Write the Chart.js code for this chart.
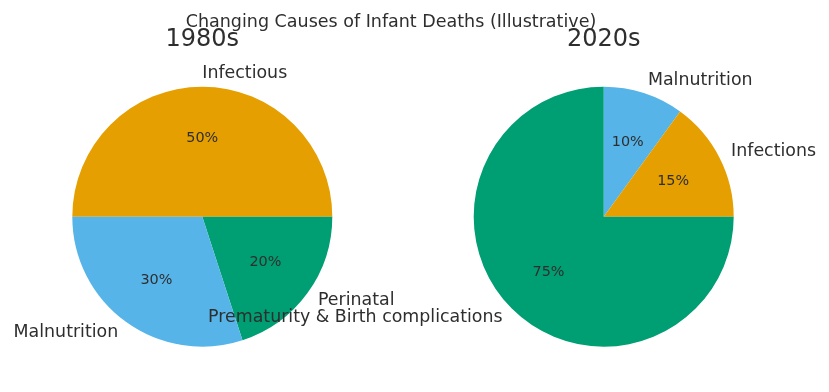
<!DOCTYPE html>
<html>
<head>
<meta charset="utf-8">
<title>Changing Causes of Infant Deaths</title>
<script src="https://cdn.jsdelivr.net/npm/chart.js@4.4.0/dist/chart.umd.min.js"></script>
<style>
    html, body { margin: 0; padding: 0; background: #ffffff; }
    #wrap { position: relative; width: 829px; height: 392px; overflow: hidden; }
    .pane { position: absolute; left: 0; top: 0; width: 829px; height: 392px; }
</style>
</head>
<body>
<div id="wrap">
    <div class="pane"><canvas id="chart1980"></canvas></div>
    <div class="pane"><canvas id="chart2020"></canvas></div>
</div>
<script>
const mainTitle = 'Changing Causes of Infant Deaths (Illustrative)';

const labels1980 = ['Infectious', 'Perinatal', 'Malnutrition'];
const values1980 = [50, 20, 30];
const colors1980 = ['#E69F00', '#009E73', '#56B4E9'];

const labels2020 = ['Malnutrition', 'Infections', 'Prematurity & Birth complications'];
const values2020 = [10, 15, 75];
const colors2020 = ['#56B4E9', '#E69F00', '#009E73'];

const textColor = '#2e2e2e';
const fontFamily = '"DejaVu Sans", Verdana, sans-serif';

// draws the subplot title, the outside labels and the percentages
const pieTextPlugin = {
    id: 'pieText',
    afterDatasetsDraw(chart, args, opts) {
        const ctx = chart.ctx;
        const meta = chart.getDatasetMeta(0);
        const values = chart.data.datasets[0].data;
        const total = values.reduce((a, b) => a + b, 0);
        ctx.save();
        ctx.fillStyle = textColor;

        meta.data.forEach((arc, i) => {
            const p = arc.getProps(['x', 'y', 'startAngle', 'endAngle', 'outerRadius'], true);
            const mid = (p.startAngle + p.endAngle) / 2;
            const r = p.outerRadius;

            // percentage inside
            ctx.font = '14.4px ' + fontFamily;
            ctx.textAlign = 'center';
            ctx.textBaseline = 'middle';
            const pct = Math.round(values[i] / total * 100) + '%';
            ctx.fillText(pct, p.x + Math.cos(mid) * r * 0.6, p.y + Math.sin(mid) * r * 0.6);

            // category label outside
            ctx.font = '17.4px ' + fontFamily;
            ctx.textAlign = Math.cos(mid) > 0 ? 'left' : 'right';
            ctx.fillText(chart.data.labels[i], p.x + Math.cos(mid) * r * 1.1, p.y + Math.sin(mid) * r * 1.1);
        });

        // subplot title
        const ca = chart.chartArea;
        ctx.font = '24px ' + fontFamily;
        ctx.textAlign = 'center';
        ctx.textBaseline = 'alphabetic';
        ctx.fillText(opts.title, (ca.left + ca.right) / 2, 45.5);

        if (opts.mainTitle) {
            ctx.font = '17.5px ' + fontFamily;
            ctx.fillText(opts.mainTitle, 391, 26.5);
        }
        ctx.restore();
    }
};

function makePie(id, labels, values, colors, rotation, title, padding, withMain) {
    return new Chart(document.getElementById(id), {
        type: 'pie',
        data: {
            labels: labels,
            datasets: [{
                data: values,
                backgroundColor: colors,
                borderColor: colors,
                borderWidth: 0
            }]
        },
        options: {
            responsive: true,
            maintainAspectRatio: false,
            animation: false,
            rotation: rotation,
            layout: { padding: padding },
            plugins: {
                legend: { display: false },
                tooltip: { enabled: false },
                pieText: { title: title, mainTitle: withMain ? mainTitle : null }
            },
            events: []
        },
        plugins: [pieTextPlugin]
    });
}

makePie('chart1980', labels1980, values1980, colors1980, -90, '1980s',
    { left: 72.3, right: 496.7, top: 86.7, bottom: 45.3 }, true);
makePie('chart2020', labels2020, values2020, colors2020, 0, '2020s',
    { left: 473.7, right: 95.3, top: 86.7, bottom: 45.3 }, false);
</script>
</body>
</html>
